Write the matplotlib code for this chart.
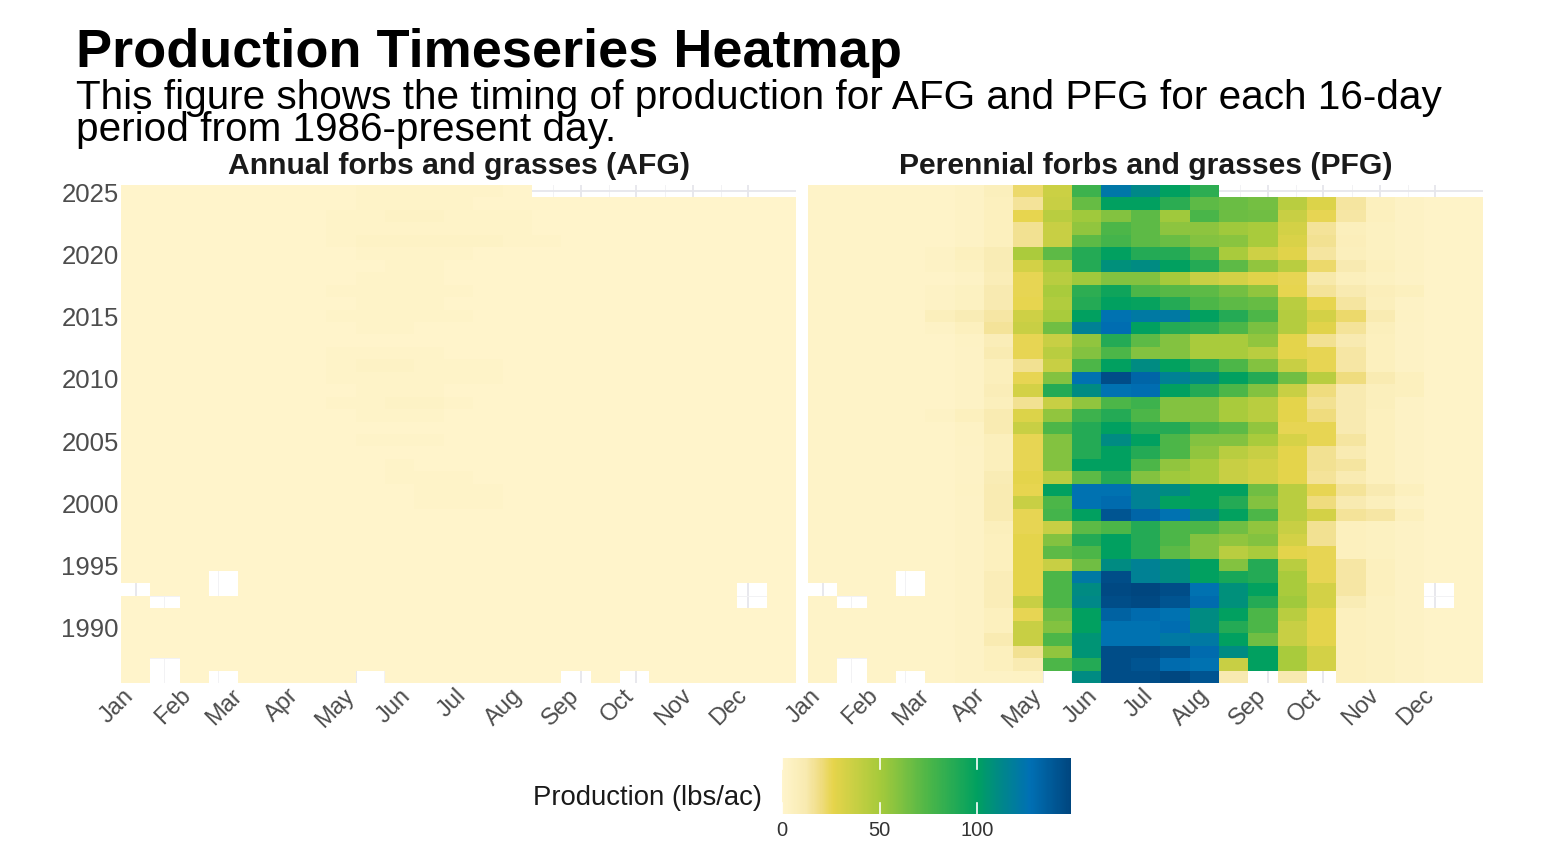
import numpy as np
import matplotlib
matplotlib.use("Agg")
import matplotlib.pyplot as plt
import matplotlib.transforms as mtransforms
from matplotlib.colors import LinearSegmentedColormap, Normalize

plt.rcParams['font.family'] = ['Liberation Sans', 'DejaVu Sans']

# ---------------- data ----------------
N = None
years = [2025, 2024, 2023, 2022, 2021, 2020, 2019, 2018, 2017, 2016, 2015, 2014, 2013,
         2012, 2011, 2010, 2009, 2008, 2007, 2006, 2005, 2004, 2003, 2002, 2001, 2000,
         1999, 1998, 1997, 1996, 1995, 1994, 1993, 1992, 1991, 1990, 1989, 1988, 1987, 1986]

# start day-of-year of each 16-day period
period_doy = [1, 17, 33, 49, 65, 81, 97, 113, 129, 145, 161, 177, 193, 209, 225, 241,
              257, 273, 289, 305, 321, 337, 353]

months = ['Jan', 'Feb', 'Mar', 'Apr', 'May', 'Jun', 'Jul', 'Aug', 'Sep', 'Oct', 'Nov', 'Dec']
month_doy = [1, 32, 60, 91, 121, 152, 182, 213, 244, 274, 305, 335]
year_ticks = [1990, 1995, 2000, 2005, 2010, 2015, 2020, 2025]
cbar_ticks = [0, 50, 100]

# Perennial forbs and grasses (lbs/ac), rows = years (2025 -> 1986), cols = 16-day periods
pfg_values = [
    [2, 2, 2, 2, 2, 3, 7, 22, 36, 80, 122, 112, 100, 85, N, N, N, N, N, N, N, N, N],
    [2, 2, 2, 2, 2, 3, 6, 16, 37, 68, 100, 100, 86, 70, 67, 64, 43, 30, 15, 6, 3, 2, 2],
    [2, 2, 2, 2, 2, 3, 6, 26, 43, 52, 60, 70, 52, 76, 66, 65, 37, 25, 14, 6, 3, 2, 2],
    [2, 2, 2, 2, 2, 3, 6, 17, 37, 56, 75, 70, 57, 57, 52, 49, 33, 16, 7, 5, 3, 2, 2],
    [2, 2, 2, 2, 2, 3, 6, 17, 37, 70, 78, 70, 67, 60, 58, 49, 31, 17, 8, 5, 3, 2, 2],
    [2, 2, 2, 2, 3, 6, 10, 48, 70, 88, 100, 88, 88, 75, 49, 35, 28, 15, 7, 5, 3, 2, 2],
    [2, 2, 2, 2, 3, 5, 10, 33, 48, 88, 108, 110, 100, 88, 70, 56, 43, 22, 12, 6, 4, 2, 2],
    [2, 2, 2, 2, 2, 3, 9, 25, 43, 52, 60, 60, 50, 37, 33, 28, 25, 13, 7, 5, 3, 2, 2],
    [2, 2, 2, 2, 3, 5, 12, 25, 49, 85, 95, 75, 72, 70, 64, 56, 26, 16, 12, 8, 6, 2, 2],
    [2, 2, 2, 2, 3, 5, 12, 26, 46, 88, 100, 98, 88, 75, 70, 68, 43, 26, 15, 7, 3, 2, 2],
    [2, 2, 2, 2, 7, 10, 14, 35, 49, 100, 126, 121, 121, 100, 88, 75, 45, 33, 22, 11, 4, 2, 2],
    [2, 2, 2, 2, 3, 6, 16, 37, 65, 116, 128, 100, 88, 85, 75, 62, 45, 28, 16, 7, 3, 2, 2],
    [2, 2, 2, 2, 2, 4, 9, 25, 37, 56, 88, 70, 60, 49, 49, 56, 27, 17, 12, 6, 3, 2, 2],
    [2, 2, 2, 2, 2, 3, 11, 25, 43, 60, 75, 60, 60, 49, 49, 43, 27, 25, 14, 6, 3, 2, 2],
    [2, 2, 2, 2, 2, 3, 7, 17, 37, 75, 100, 110, 99, 88, 75, 60, 37, 25, 14, 6, 3, 2, 2],
    [2, 2, 2, 2, 2, 3, 7, 25, 60, 126, 144, 132, 116, 110, 100, 88, 65, 43, 20, 11, 6, 2, 2],
    [2, 2, 2, 2, 2, 3, 9, 33, 88, 110, 126, 128, 100, 88, 75, 60, 37, 20, 12, 7, 6, 2, 2],
    [2, 2, 2, 2, 2, 3, 7, 17, 37, 56, 75, 80, 60, 60, 49, 43, 27, 17, 12, 7, 3, 2, 2],
    [2, 2, 2, 2, 3, 6, 11, 30, 56, 80, 88, 75, 60, 60, 49, 43, 27, 20, 12, 6, 3, 2, 2],
    [2, 2, 2, 2, 2, 4, 11, 37, 75, 88, 100, 88, 88, 75, 70, 56, 25, 25, 12, 6, 3, 2, 2],
    [2, 2, 2, 2, 2, 4, 7, 25, 60, 88, 110, 100, 75, 60, 60, 49, 32, 25, 15, 6, 3, 2, 2],
    [2, 2, 2, 2, 2, 3, 7, 25, 60, 88, 100, 88, 75, 56, 43, 37, 27, 17, 11, 6, 3, 2, 2],
    [2, 2, 2, 2, 2, 3, 7, 25, 60, 100, 100, 75, 56, 49, 37, 33, 27, 17, 15, 6, 3, 2, 2],
    [2, 2, 2, 2, 2, 3, 10, 27, 43, 70, 88, 60, 52, 49, 37, 33, 27, 16, 11, 6, 3, 2, 2],
    [2, 2, 2, 2, 2, 4, 11, 26, 100, 126, 126, 116, 110, 100, 100, 65, 43, 25, 16, 12, 6, 2, 2],
    [2, 2, 2, 2, 2, 3, 11, 37, 75, 126, 129, 116, 99, 100, 88, 60, 43, 20, 12, 7, 3, 2, 2],
    [2, 2, 2, 2, 2, 3, 11, 25, 78, 100, 140, 132, 126, 110, 99, 75, 43, 33, 16, 14, 6, 2, 2],
    [2, 2, 2, 2, 2, 3, 7, 25, 37, 70, 75, 88, 75, 75, 65, 56, 37, 17, 6, 5, 3, 2, 2],
    [2, 2, 2, 2, 2, 3, 6, 27, 60, 88, 100, 88, 75, 60, 56, 60, 33, 17, 6, 5, 3, 2, 2],
    [2, 2, 2, 2, 2, 3, 6, 27, 70, 75, 100, 88, 70, 60, 43, 49, 27, 25, 6, 5, 3, 2, 2],
    [2, 2, 2, 2, 2, 3, 6, 27, 37, 65, 110, 116, 110, 100, 60, 88, 43, 25, 14, 6, 3, 2, 2],
    [2, 2, 2, N, 2, 3, 9, 27, 75, 121, 144, 116, 110, 100, 92, 88, 49, 25, 14, 6, 3, 2, 2],
    [N, 2, 2, N, 2, 3, 9, 27, 75, 110, 146, 148, 144, 126, 108, 99, 49, 33, 14, 6, 3, N, 2],
    [2, N, 2, 2, 2, 3, 9, 37, 75, 112, 144, 146, 141, 129, 108, 88, 52, 33, 10, 5, 3, N, 2],
    [2, 2, 2, 2, 2, 3, 6, 25, 65, 100, 134, 129, 126, 110, 100, 75, 43, 27, 6, 5, 3, 2, 2],
    [2, 2, 2, 2, 2, 3, 6, 37, 60, 100, 126, 126, 128, 110, 88, 75, 37, 27, 6, 5, 3, 2, 2],
    [2, 2, 2, 2, 2, 3, 11, 37, 75, 106, 126, 126, 121, 121, 100, 65, 37, 27, 6, 5, 3, 2, 2],
    [2, 2, 2, 2, 2, 3, 6, 17, 56, 106, 144, 144, 141, 129, 110, 100, 49, 33, 6, 5, 3, 2, 2],
    [2, N, 2, 2, 2, 3, 6, 11, 75, 88, 144, 141, 129, 126, 37, 100, 49, 33, 6, 5, 3, 2, 2],
    [2, N, 2, N, 2, 3, 3, 4, N, 110, 144, 144, 147, 141, 12, N, 12, N, 6, 5, 3, 2, 2],
]

# Annual forbs and grasses (lbs/ac)
afg_values = [
    [1, 1, 1, 1, 1, 1, 1, 1, 2, 2, 2, 2, 2, 1, N, N, N, N, N, N, N, N, N],
    [1, 1, 1, 1, 1, 1, 1, 1, 2, 2, 2, 2, 1, 1, 1, 1, 1, 1, 1, 1, 1, 1, 1],
    [1, 1, 1, 1, 1, 1, 1, 2, 2, 3, 3, 2, 2, 2, 1, 1, 1, 1, 1, 1, 1, 1, 1],
    [1, 1, 1, 1, 1, 1, 1, 2, 2, 2, 2, 2, 2, 2, 1, 1, 1, 1, 1, 1, 1, 1, 1],
    [1, 1, 1, 1, 1, 1, 1, 2, 3, 3, 3, 3, 3, 2, 2, 1, 1, 1, 1, 1, 1, 1, 1],
    [1, 1, 1, 1, 1, 1, 1, 1, 2, 2, 2, 2, 1, 1, 1, 1, 1, 1, 1, 1, 1, 1, 1],
    [1, 1, 1, 1, 1, 1, 1, 1, 1, 2, 2, 1, 1, 1, 1, 1, 1, 1, 1, 1, 1, 1, 1],
    [1, 1, 1, 1, 1, 1, 1, 1, 2, 2, 2, 1, 1, 1, 1, 1, 1, 1, 1, 1, 1, 1, 1],
    [1, 1, 1, 1, 1, 1, 1, 2, 2, 2, 2, 2, 1, 1, 1, 1, 1, 1, 1, 1, 1, 1, 1],
    [1, 1, 1, 1, 1, 1, 1, 1, 2, 2, 2, 1, 1, 1, 1, 1, 1, 1, 1, 1, 1, 1, 1],
    [1, 1, 1, 1, 1, 1, 1, 2, 2, 2, 2, 2, 1, 1, 1, 1, 1, 1, 1, 1, 1, 1, 1],
    [1, 1, 1, 1, 1, 1, 1, 1, 2, 2, 1, 1, 1, 1, 1, 1, 1, 1, 1, 1, 1, 1, 1],
    [1, 1, 1, 1, 1, 1, 1, 1, 1, 1, 1, 1, 1, 1, 1, 1, 1, 1, 1, 1, 1, 1, 1],
    [1, 1, 1, 1, 1, 1, 1, 2, 2, 2, 2, 1, 1, 1, 1, 1, 1, 1, 1, 1, 1, 1, 1],
    [1, 1, 1, 1, 1, 1, 1, 2, 3, 3, 2, 2, 2, 1, 1, 1, 1, 1, 1, 1, 1, 1, 1],
    [1, 1, 1, 1, 1, 1, 1, 2, 2, 2, 2, 2, 2, 1, 1, 1, 1, 1, 1, 1, 1, 1, 1],
    [1, 1, 1, 1, 1, 1, 1, 1, 2, 2, 2, 1, 1, 1, 1, 1, 1, 1, 1, 1, 1, 1, 1],
    [1, 1, 1, 1, 1, 1, 1, 2, 2, 3, 3, 2, 1, 1, 1, 1, 1, 1, 1, 1, 1, 1, 1],
    [1, 1, 1, 1, 1, 1, 1, 1, 2, 2, 2, 1, 1, 1, 1, 1, 1, 1, 1, 1, 1, 1, 1],
    [1, 1, 1, 1, 1, 1, 1, 1, 1, 1, 1, 1, 1, 1, 1, 1, 1, 1, 1, 1, 1, 1, 1],
    [1, 1, 1, 1, 1, 1, 1, 1, 2, 2, 2, 1, 1, 1, 1, 1, 1, 1, 1, 1, 1, 1, 1],
    [1, 1, 1, 1, 1, 1, 1, 1, 1, 1, 1, 1, 1, 1, 1, 1, 1, 1, 1, 1, 1, 1, 1],
    [1, 1, 1, 1, 1, 1, 1, 1, 1, 2, 1, 1, 1, 1, 1, 1, 1, 1, 1, 1, 1, 1, 1],
    [1, 1, 1, 1, 1, 1, 1, 1, 1, 2, 2, 2, 1, 1, 1, 1, 1, 1, 1, 1, 1, 1, 1],
    [1, 1, 1, 1, 1, 1, 1, 1, 1, 1, 2, 2, 2, 1, 1, 1, 1, 1, 1, 1, 1, 1, 1],
    [1, 1, 1, 1, 1, 1, 1, 1, 1, 1, 2, 2, 2, 1, 1, 1, 1, 1, 1, 1, 1, 1, 1],
    [1, 1, 1, 1, 1, 1, 1, 1, 1, 1, 1, 1, 1, 1, 1, 1, 1, 1, 1, 1, 1, 1, 1],
    [1, 1, 1, 1, 1, 1, 1, 1, 1, 1, 1, 1, 1, 1, 1, 1, 1, 1, 1, 1, 1, 1, 1],
    [1, 1, 1, 1, 1, 1, 1, 1, 1, 1, 1, 1, 1, 1, 1, 1, 1, 1, 1, 1, 1, 1, 1],
    [1, 1, 1, 1, 1, 1, 1, 1, 1, 1, 1, 1, 1, 1, 1, 1, 1, 1, 1, 1, 1, 1, 1],
    [1, 1, 1, 1, 1, 1, 1, 1, 1, 1, 1, 1, 1, 1, 1, 1, 1, 1, 1, 1, 1, 1, 1],
    [1, 1, 1, N, 1, 1, 1, 1, 1, 1, 1, 1, 1, 1, 1, 1, 1, 1, 1, 1, 1, 1, 1],
    [N, 1, 1, N, 1, 1, 1, 1, 1, 1, 1, 1, 1, 1, 1, 1, 1, 1, 1, 1, 1, N, 1],
    [1, N, 1, 1, 1, 1, 1, 1, 1, 1, 1, 1, 1, 1, 1, 1, 1, 1, 1, 1, 1, N, 1],
    [1, 1, 1, 1, 1, 1, 1, 1, 1, 1, 1, 1, 1, 1, 1, 1, 1, 1, 1, 1, 1, 1, 1],
    [1, 1, 1, 1, 1, 1, 1, 1, 1, 1, 1, 1, 1, 1, 1, 1, 1, 1, 1, 1, 1, 1, 1],
    [1, 1, 1, 1, 1, 1, 1, 1, 1, 1, 1, 1, 1, 1, 1, 1, 1, 1, 1, 1, 1, 1, 1],
    [1, 1, 1, 1, 1, 1, 1, 1, 1, 1, 1, 1, 1, 1, 1, 1, 1, 1, 1, 1, 1, 1, 1],
    [1, N, 1, 1, 1, 1, 1, 1, 1, 1, 1, 1, 1, 1, 1, 1, 1, 1, 1, 1, 1, 1, 1],
    [1, N, 1, N, 1, 1, 1, 1, N, 1, 1, 1, 1, 1, 1, N, 1, N, 1, 1, 1, 1, 1],
]

# ---------------- style ----------------
W, H = 1544, 862
cmap = LinearSegmentedColormap.from_list(
    'prod',
    [(0.0, '#FFF5CC'), (12 / 148, '#F8EAB0'), (19 / 148, '#F0DD84'), (26 / 148, '#E6D44B'),
     (50 / 148, '#A6CA3B'), (75 / 148, '#4CB648'), (100 / 148, '#00A060'),
     (112 / 148, '#008888'), (127 / 148, '#0070B4'), (1.0, '#00467F')])
norm = Normalize(vmin=0, vmax=148)


def to_grid(rows):
    arr = np.array([[np.nan if v is None else v for v in r] for r in rows], dtype=float)
    return np.ma.masked_invalid(arr[::-1])


yrs_asc = np.array(years[::-1], dtype=float)
ctr = np.array(period_doy, dtype=float)
half = (ctr[1] - ctr[0]) / 2
x_edges = np.concatenate([ctr - half, [ctr[-1] + half]])
y_edges = np.concatenate([yrs_asc - 0.5, [yrs_asc[-1] + 0.5]])
minor_x = [(a + b) / 2 for a, b in zip(month_doy[:-1], month_doy[1:])]
minor_y = [y + 2.5 for y in year_ticks[:-1]] + [year_ticks[0] - 2.5]

fig = plt.figure(figsize=(W / 100, H / 100), dpi=100)
fig.patch.set_facecolor('white')

panel_h = (684 - 186) / H
axL = fig.add_axes([121 / W, 1 - 684 / H, (796 - 121) / W, panel_h])
axR = fig.add_axes([808 / W, 1 - 684 / H, (1483 - 808) / W, panel_h])

panels = [(axL, afg_values, 'Annual forbs and grasses (AFG)'),
          (axR, pfg_values, 'Perennial forbs and grasses (PFG)')]

label_shift = mtransforms.ScaledTranslation(-13 / 100, 0, fig.dpi_scale_trans)

mesh = None
for ax, vals, title in panels:
    ax.set_axisbelow(True)
    mesh = ax.pcolormesh(x_edges, y_edges, to_grid(vals), cmap=cmap, norm=norm,
                         shading='flat', edgecolors='none', antialiased=False, zorder=1)
    ax.set_xlim(x_edges[0], x_edges[-1])
    ax.set_ylim(y_edges[0], y_edges[-1])
    ax.set_xticks(month_doy)
    ax.set_xticklabels(months, rotation=45, ha='right', va='top', rotation_mode='anchor')
    ax.set_xticks(minor_x, minor=True)
    ax.set_yticks(year_ticks)
    ax.set_yticklabels([str(y) for y in year_ticks])
    ax.set_yticks(minor_y, minor=True)
    ax.grid(which='major', color='#E6E6EC', linewidth=1.3)
    ax.grid(which='minor', color='#F2F2F4', linewidth=0.7)
    for s in ax.spines.values():
        s.set_visible(False)
    ax.tick_params(which='both', length=0)
    ax.tick_params(axis='y', labelsize=18.5, labelcolor='#4D4D4D', pad=1.5)
    ax.tick_params(axis='x', labelsize=17, labelcolor='#4D4D4D', pad=0.5)
    for lab in ax.get_xticklabels():
        lab.set_transform(lab.get_transform() + label_shift)
    ax.set_title(title, fontsize=21.7, fontweight='bold', color='#1A1A1A', pad=9)

axR.tick_params(axis='y', labelleft=False)

# colorbar
cax = fig.add_axes([782 / W, 1 - 815 / H, (1071 - 782) / W, (815 - 759) / H])
cb = fig.colorbar(mesh, cax=cax, orientation='horizontal', ticks=cbar_ticks)
cb.outline.set_visible(False)
cax.tick_params(length=0, labelsize=14.5, labelcolor='#333333', pad=4)
for t in cbar_ticks:
    cax.plot([t, t], [0, 0.2], color='white', lw=1.2, transform=cax.get_xaxis_transform(), clip_on=False)
    cax.plot([t, t], [0.8, 1.0], color='white', lw=1.2, transform=cax.get_xaxis_transform(), clip_on=False)
fig.text(762 / W, 1 - 798 / H, 'Production (lbs/ac)', ha='right', va='center',
         fontsize=19.8, color='#1A1A1A')

# titles
fig.text(76 / W, 1 - 66.7 / H, 'Production Timeseries Heatmap', fontsize=39,
         fontweight='bold', color='black', ha='left', va='baseline')
fig.text(76 / W, 1 - 109.3 / H,
         'This figure shows the timing of production for AFG and PFG for each 16-day',
         fontsize=29.2, color='black', ha='left', va='baseline')
fig.text(76 / W, 1 - 141 / H, 'period from 1986-present day.', fontsize=29.2,
         color='black', ha='left', va='baseline')

fig.savefig('out.png', dpi=100, facecolor='white')
